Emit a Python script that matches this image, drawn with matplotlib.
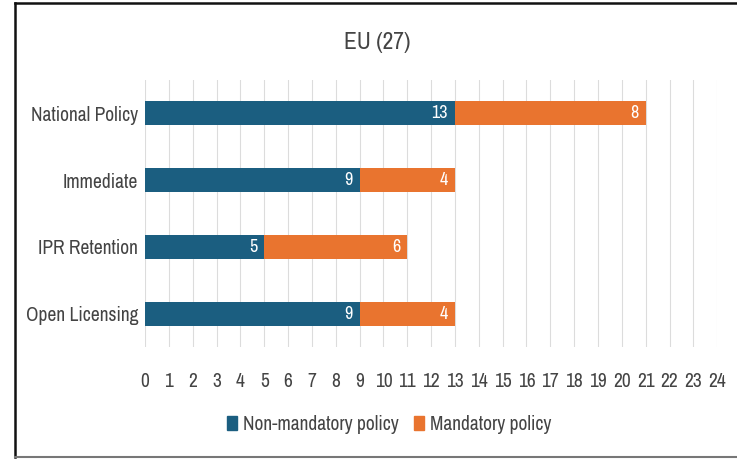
import matplotlib
matplotlib.use("Agg")
import matplotlib.pyplot as plt
from matplotlib.patches import Patch
from matplotlib.lines import Line2D

# Policy counts across the EU (27) member states.
categories = ["National Policy", "Immediate", "IPR Retention", "Open Licensing"]
non_mandatory = [13, 9, 5, 9]
mandatory = [8, 4, 6, 4]
x_ticks = list(range(0, 25))

blue = "#1b5e80"
orange = "#e9742f"
text_grey = "#444444"

plt.rcParams["font.family"] = ["Archivo Narrow", "Liberation Sans", "DejaVu Sans"]

fig = plt.figure(figsize=(7.37, 4.59), dpi=100)
ax = fig.add_axes([0.1967, 0.244, 0.7765, 0.582])

y_pos = list(range(len(categories)))
ax.barh(y_pos, non_mandatory, height=0.36, color=blue, zorder=3)
ax.barh(y_pos, mandatory, left=non_mandatory, height=0.36, color=orange, zorder=3)

# White value labels at the right end of each segment.
for y, a, b in zip(y_pos, non_mandatory, mandatory):
    ax.text(a - 0.3, y, str(a), ha="right", va="center", color="white",
            fontsize=13, fontweight="medium", zorder=4)
    ax.text(a + b - 0.3, y, str(b), ha="right", va="center", color="white",
            fontsize=13, fontweight="medium", zorder=4)

ax.set_xlim(0, 24)
ax.set_ylim(3.5, -0.5)
ax.set_xticks(x_ticks)
ax.set_yticks(y_pos)
ax.set_yticklabels(categories)
ax.tick_params(axis="x", length=0, pad=18, labelsize=14, labelcolor=text_grey)
ax.tick_params(axis="y", length=0, pad=5, labelsize=14, labelcolor=text_grey)
ax.grid(axis="x", color="#dcdcdc", linewidth=0.8, zorder=0)
for spine in ax.spines.values():
    spine.set_visible(False)

fig.text(0.512, 0.908, "EU (27)", ha="center", va="center", fontsize=17, color=text_grey)

handles = [Patch(color=blue), Patch(color=orange)]
fig.legend(handles, ["Non-mandatory policy", "Mandatory policy"], loc="center",
           bbox_to_anchor=(0.528, 0.076), ncol=2, frameon=False, fontsize=14,
           handlelength=0.5, handleheight=0.7, handletextpad=0.3, columnspacing=0.8,
           labelcolor=text_grey)

# Frame around the chart image (left, top and bottom edges are visible).
fig.add_artist(Line2D([15 / 737, 15 / 737], [2 / 459, 456 / 459], transform=fig.transFigure,
                      color="#111111", linewidth=1.8))
fig.add_artist(Line2D([15 / 737, 1.0], [456 / 459, 456 / 459], transform=fig.transFigure,
                      color="#111111", linewidth=1.8))
fig.add_artist(Line2D([15 / 737, 1.0], [2 / 459, 2 / 459], transform=fig.transFigure,
                      color="#777777", linewidth=1.5))

fig.savefig("out.png", dpi=100, facecolor="white")
